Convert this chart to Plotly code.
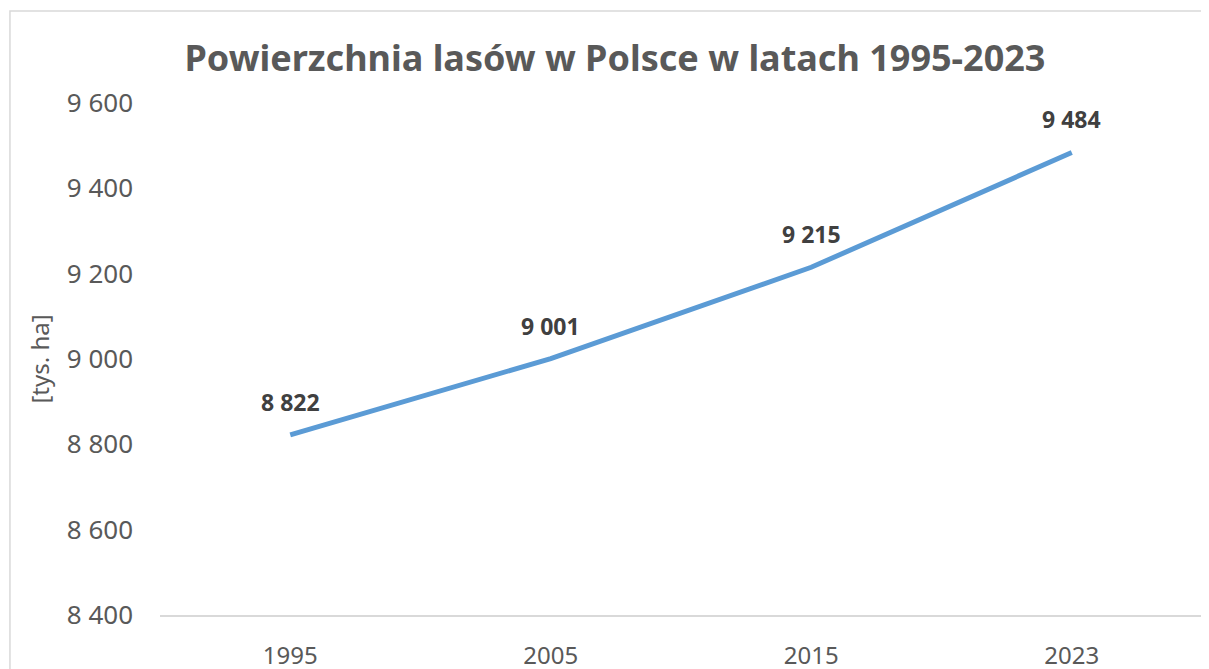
import plotly.graph_objects as go

years = ["1995", "2005", "2015", "2023"]
area = [8822, 9001, 9215, 9484]
labels = ["8 822", "9 001", "9 215", "9 484"]
ytick_vals = [8400, 8600, 8800, 9000, 9200, 9400, 9600]
ytick_text = ["8 400", "8 600", "8 800", "9 000", "9 200", "9 400", "9 600"]

FONT = "Noto Sans"
GREY = "#595959"

fig = go.Figure()
fig.add_trace(go.Scatter(
    x=years, y=area, mode="lines",
    line=dict(color="#5B9BD5", width=5),
    hoverinfo="skip", showlegend=False,
))

# category axis: annotation x given as category index
for i, (y, t) in enumerate(zip(area, labels)):
    fig.add_annotation(x=i, y=y, xref="x", yref="y", text="<b>" + t + "</b>",
                       showarrow=False, yshift=33,
                       font=dict(family=FONT, size=23, color="#404040"))

fig.add_shape(type="rect", xref="paper", yref="paper",
              x0=-0.144, x1=1.02, y0=-0.3, y1=1.1797,
              line=dict(color="#D9D9D9", width=1.5), fillcolor="rgba(0,0,0,0)", layer="below")

# page body has an 8px margin, so the figure is drawn 8px smaller
fig.update_layout(
    width=1201, height=661,
    margin=dict(l=152, r=7, t=95, b=54, autoexpand=False),
    paper_bgcolor="white", plot_bgcolor="white",
    title=dict(text="<b>Powierzchnia lasów w Polsce w latach 1995-2023</b>",
               x=(615 - 8) / 1201, xanchor="center", y=1 - (58 - 8) / 661, yanchor="middle",
               font=dict(family=FONT, size=36, color=GREY)),
    xaxis=dict(type="category", range=[-0.5, 3.5], showgrid=False, zeroline=False,
               automargin=False,
               showline=True, linecolor="#D9D9D9", linewidth=1.5, ticks="",
               tickfont=dict(family=FONT, size=24, color=GREY), ticklabelstandoff=18),
    yaxis=dict(range=[8400, 9600], tickvals=ytick_vals, ticktext=ytick_text,
               automargin=False,
               showgrid=False, zeroline=False, showline=False, ticks="",
               tickfont=dict(family=FONT, size=26, color=GREY), ticklabelstandoff=26,
               title=dict(text="[tys. ha]", standoff=10,
                          font=dict(family=FONT, size=24, color=GREY))),
)

fig.write_html("out.html")
